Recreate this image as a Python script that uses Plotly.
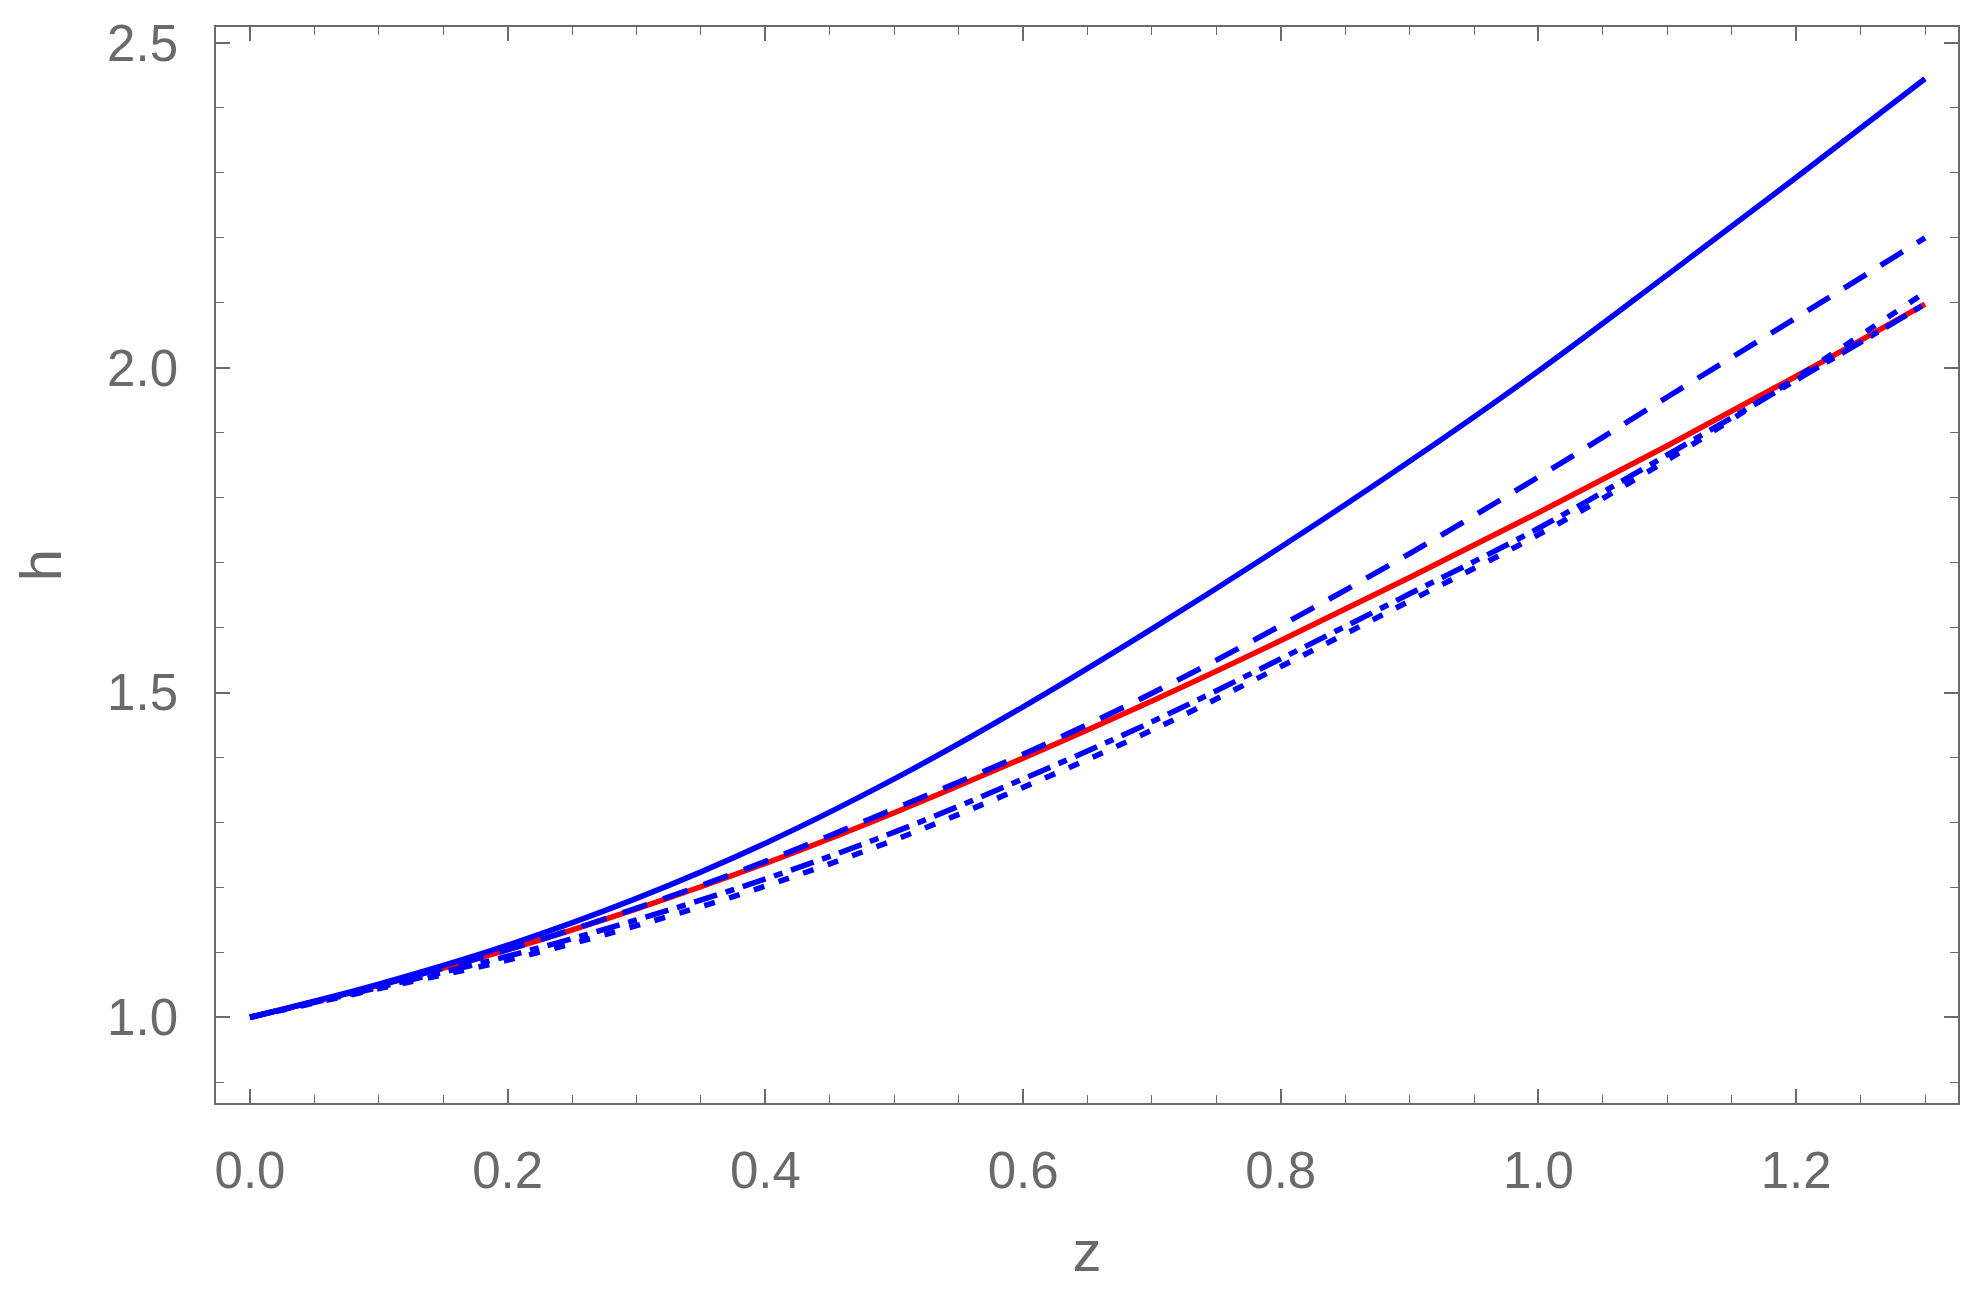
import plotly.graph_objects as go

# redshift grid and h(z)
z = [0.0, 0.1, 0.2, 0.3, 0.4, 0.5, 0.6, 0.7, 0.8, 0.9, 1.0, 1.1, 1.2, 1.3]

h_red = [1.0, 1.049, 1.104, 1.167, 1.237, 1.315, 1.399, 1.487, 1.580, 1.677, 1.777, 1.880, 1.987, 2.098]
h_solid = [1.0, 1.051, 1.111, 1.183, 1.268, 1.367, 1.478, 1.598, 1.724, 1.856, 1.995, 2.143, 2.293, 2.445]
h_dashed = [1.0, 1.049, 1.104, 1.168, 1.240, 1.321, 1.405, 1.499, 1.603, 1.714, 1.832, 1.955, 2.077, 2.200]
h_dashdot = [1.0, 1.046, 1.094, 1.150, 1.213, 1.285, 1.367, 1.455, 1.552, 1.652, 1.753, 1.866, 1.981, 2.098]
h_dotted = [1.0, 1.044, 1.088, 1.141, 1.202, 1.273, 1.354, 1.442, 1.540, 1.641, 1.743, 1.858, 1.985, 2.116]

x_ticks = [0.0, 0.2, 0.4, 0.6, 0.8, 1.0, 1.2]
y_ticks = [1.0, 1.5, 2.0, 2.5]

gris = "#6a6a6a"
azul = "#0000ff"

fig = go.Figure()

# orden: rojo debajo, azules encima
curvas = [
    (h_red, "#ff0000", "solid"),
    (h_solid, azul, "solid"),
    (h_dashed, azul, "26px,17px"),
    (h_dashdot, azul, "24px,9px,9px,9px"),
    (h_dotted, azul, "11px,15px"),
]
for valores, color, estilo in curvas:
    fig.add_trace(go.Scatter(
        x=z, y=valores, mode="lines",
        line=dict(color=color, width=5.5, dash=estilo, shape="spline"),
        showlegend=False,
    ))

eje = dict(
    showgrid=False, zeroline=False, automargin=False,
    showline=True, linecolor=gris, linewidth=1.6,
    mirror="allticks", ticks="inside", ticklen=14, tickwidth=1.6, tickcolor=gris,
    tickfont=dict(family="Liberation Sans", size=51, color=gris),
)

fig.update_xaxes(
    **eje,
    range=[-0.0264, 1.3256],
    tickvals=x_ticks, ticktext=[f"{v:.1f}" for v in x_ticks],
    minor=dict(ticks="inside", dtick=0.05, tick0=0, ticklen=8, tickwidth=1.4, tickcolor=gris),
    ticklabelstandoff=22,
    title=dict(text="z", font=dict(family="Liberation Sans", size=58, color=gris), standoff=32),
)
fig.update_yaxes(
    **eje,
    range=[0.868, 2.5247],
    tickvals=y_ticks, ticktext=[f"{v:.1f}" for v in y_ticks],
    minor=dict(ticks="inside", dtick=0.1, tick0=0, ticklen=8, tickwidth=1.4, tickcolor=gris),
    ticklabelstandoff=26,
    title=dict(text="h", font=dict(family="Liberation Sans", size=58, color=gris), standoff=30),
)

fig.update_layout(
    width=1976, height=1292,
    margin=dict(l=208, r=26, t=19, b=197),
    plot_bgcolor="white", paper_bgcolor="white",
)

fig.write_html("out.html")
